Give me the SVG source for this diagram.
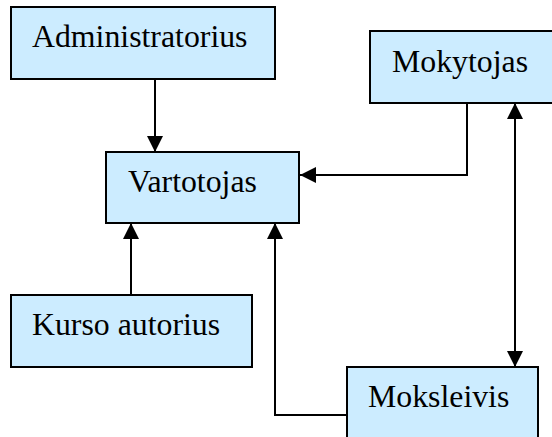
<svg xmlns="http://www.w3.org/2000/svg" width="552" height="437" viewBox="0 0 552 437">
  <style>
    .box { fill: #CCECFF; stroke: #000; stroke-width: 2; }
    .lbl { font-family: "Liberation Serif", "Times New Roman", serif; font-size: 31.8px; fill: #000; }
    .conn { fill: none; stroke: #000; stroke-width: 2; }
  </style>
  <defs>
    <marker id="arrow" viewBox="0 0 16 16" refX="16" refY="8" markerWidth="16" markerHeight="16" markerUnits="userSpaceOnUse" orient="auto-start-reverse">
      <path d="M0,0 L16,8 L0,16 Z" fill="#000"/>
    </marker>
  </defs>
  <rect width="552" height="437" fill="#fff"/>

  <g id="connectors">
    <!-- Administratorius -> Vartotojas -->
    <path class="conn" d="M155,79 V152" marker-end="url(#arrow)"/>
    <!-- Mokytojas -> Vartotojas -->
    <path class="conn" d="M467,103 V175 H300" marker-end="url(#arrow)"/>
    <!-- Kurso autorius -> Vartotojas -->
    <path class="conn" d="M131,295 V223" marker-end="url(#arrow)"/>
    <!-- Moksleivis -> Vartotojas -->
    <path class="conn" d="M347,415 H275 V223" marker-end="url(#arrow)"/>
    <!-- Mokytojas <-> Moksleivis -->
    <path class="conn" d="M515,103 V367" marker-start="url(#arrow)" marker-end="url(#arrow)"/>
  </g>

  <g id="administratorius">
    <rect class="box" x="11" y="7" width="264" height="72"/>
    <text class="lbl" x="32" y="47">Administratorius</text>
  </g>
  <g id="mokytojas">
    <rect class="box" x="370" y="31" width="190" height="72"/>
    <text class="lbl" x="392" y="72">Mokytojas</text>
  </g>
  <g id="vartotojas">
    <rect class="box" x="106" y="152" width="193" height="71"/>
    <text class="lbl" x="128" y="192">Vartotojas</text>
  </g>
  <g id="kurso-autorius">
    <rect class="box" x="11" y="295" width="241" height="72"/>
    <text class="lbl" x="32" y="335">Kurso autorius</text>
  </g>
  <g id="moksleivis">
    <rect class="box" x="347" y="367" width="191" height="80"/>
    <text class="lbl" x="368" y="407">Moksleivis</text>
  </g>
</svg>
